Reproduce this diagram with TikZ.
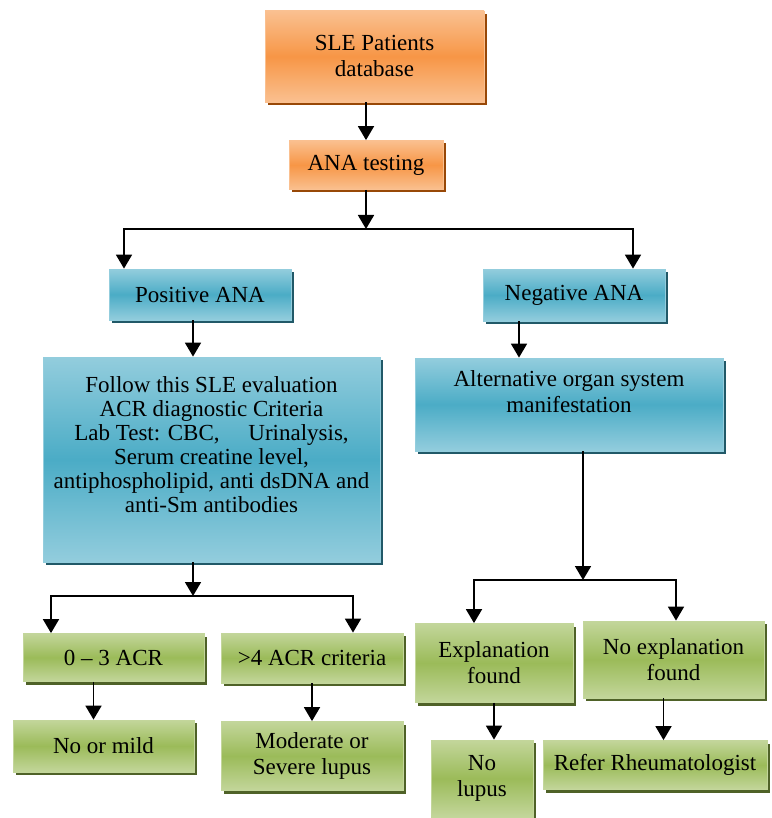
\documentclass[tikz,border=0pt]{standalone}
\usepackage{fontspec}
\setmainfont{Liberation Serif}
\usetikzlibrary{arrows.meta,shadows}

\definecolor{orglight}{HTML}{FAC090}
\definecolor{orgdark}{HTML}{F79646}
\definecolor{orgshade}{HTML}{984807}
\definecolor{teallight}{HTML}{93CDDD}
\definecolor{tealdark}{HTML}{4BACC6}
\definecolor{tealshade}{HTML}{215968}
\definecolor{grnlight}{HTML}{C3D69B}
\definecolor{grndark}{HTML}{9BBB59}
\definecolor{grnshade}{HTML}{4F6228}

\begin{document}
\begin{tikzpicture}[
    x=1pt, y=-1pt,
    box/.style={rectangle, draw=#1light, line width=0.8pt, top color=#1light, bottom color=#1light, middle color=#1dark,
        drop shadow={shadow xshift=3pt, shadow yshift=-3pt, fill=#1shade, opacity=1},
        align=center, inner sep=2pt, font=\fontsize{23}{26}\selectfont},
    arrow/.style={-{Triangle[width=16pt,length=14pt]}, line width=1.8pt}
]
\useasboundingbox (0,0) rectangle (771,818);

% Database and ANA test
\node[box=org, minimum width=219pt, minimum height=91pt] (sle) at (374.5,56.5) {SLE Patients\\database};
\node[box=org, minimum width=154pt, minimum height=49pt] (ana) at (366,165) {ANA testing};

% ANA result
\node[box=teal, minimum width=182pt, minimum height=51pt] (pos) at (200,294.5) {Positive ANA};
\node[box=teal, minimum width=182pt, minimum height=52pt] (neg) at (574,295) {Negative ANA};

% Evaluation
\node[box=teal, minimum width=337pt, minimum height=205pt, font=\fontsize{23}{24}\selectfont] (follow) at (211.5,459.5) {Follow this SLE evaluation\\ACR diagnostic Criteria\\Lab Test: CBC,\quad\ Urinalysis,\\Serum creatine level,\\antiphospholipid, anti dsDNA and\\anti-Sm antibodies\\[6pt]\mbox{}};
\node[box=teal, minimum width=308pt, minimum height=93pt] (alt) at (569,404.5) {Alternative organ system\\manifestation\\ \mbox{}};

% Criteria count
\node[box=grn, minimum width=181pt, minimum height=48pt] (acrlow) at (113.5,657.5) {0 -- 3 ACR};
\node[box=grn, minimum width=182pt, minimum height=50pt] (acrhigh) at (312,658) {>4 ACR criteria};
\node[box=grn, minimum width=181pt, minimum height=52pt] (mild) at (103.5,746) {No or mild};
\node[box=grn, minimum width=182pt, minimum height=69pt] (severe) at (312,756) {Moderate or\\Severe lupus};

% Other explanation
\node[box=grn, minimum width=158pt, minimum height=79pt] (expl) at (494,663) {Explanation\\found};
\node[box=grn, minimum width=181pt, minimum height=77pt] (noexpl) at (673.5,659.5) {No explanation\\found};
\node[box=grn, minimum width=102pt, minimum height=77pt] (nolupus) at (482,778.5) {No\\lupus};
\node[box=grn, minimum width=224pt, minimum height=49pt] (refer) at (655,765) {Refer Rheumatologist};

% Branch points
\coordinate (split1) at (366,229);
\coordinate (split2) at (193,596);
\coordinate (split3) at (583,580);

% Arrows
\draw[arrow] (sle.south -| ana) -- (ana);
\draw[arrow] (ana) -- (split1);
\draw[arrow] (split1) -| ([xshift=-76pt]pos.north);
\draw[arrow] (split1) -| ([xshift=59pt]neg.north);
\draw[arrow] ([xshift=-7pt]pos.south) -- ([xshift=-7pt]pos.south |- follow.north);
\draw[arrow] ([xshift=-55pt]neg.south) -- ([xshift=-55pt]neg.south |- alt.north);
\draw[arrow] (follow.south -| split2) -- (split2);
\draw[arrow] (split2) -| ([xshift=-62.5pt]acrlow.north);
\draw[arrow] (split2) -| ([xshift=41pt]acrhigh.north);
\draw[arrow] ([xshift=-20pt]acrlow.south) -- ([xshift=-20pt]acrlow.south |- mild.north);
\draw[arrow] (acrhigh) -- (severe);
\draw[arrow] (alt.south -| split3) -- (split3);
\draw[arrow] (split3) -| ([xshift=-20pt]expl.north);
\draw[arrow] (split3) -| ([xshift=2.5pt]noexpl.north);
\draw[arrow] (expl.south) -- (expl.south |- nolupus.north);
\draw[arrow] ([xshift=-10pt]noexpl.south) -- ([xshift=-10pt]noexpl.south |- refer.north);

\end{tikzpicture}
\end{document}
